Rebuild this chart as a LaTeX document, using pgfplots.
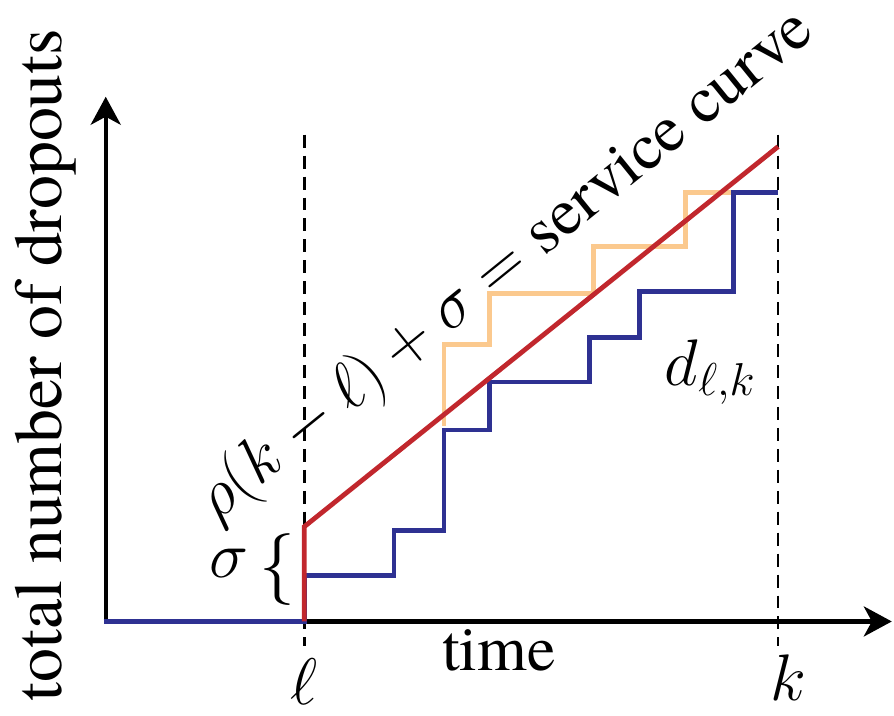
\RequirePackage{fix-cm}
\documentclass[border=0pt]{standalone}
\usepackage{fontspec}
\setmainfont{TeX Gyre Termes}
\usepackage{pgfplots}
\pgfplotsset{compat=1.18}
\usetikzlibrary{arrows.meta}
\definecolor{dblue}{HTML}{2E3192}
\definecolor{dred}{HTML}{C1272D}
\definecolor{lorange}{HTML}{FBC98E}
\begin{document}
\begin{tikzpicture}
\begin{axis}[
  x=0.5pt, y=0.5pt,
  xmin=106, xmax=894, ymin=94, ymax=620,
  axis lines*=left,
  axis line style={line width=2.2pt},
  x axis line style={-{Stealth[length=14pt,width=15pt,inset=4pt]}},
  y axis line style={-{Stealth[length=14pt,width=15pt,inset=4pt]}},
  xtick=\empty, ytick=\empty,
  clip=false,
]
\path (axis cs:0,0) rectangle (axis cs:894,717);
% dashed markers at l and k
\addplot[black, line width=1.3pt, dash pattern=on 6.5pt off 4pt] coordinates {(305,582) (305,69)};
\addplot[black, line width=1.3pt, dash pattern=on 6.5pt off 4pt] coordinates {(780,582) (780,69)};
% upper staircase
\addplot[lorange, line width=2.4pt] coordinates {
 (445,290) (445,372) (491,372) (491,423) (595,423) (595,470) (687,470) (687,524) (735,524)};
% dropouts
\addplot[dblue, line width=2.4pt] coordinates {
 (104,94) (305,94) (305,140) (395,140) (395,185) (445,185) (445,286) (491,286)
 (491,334) (591,334) (591,379) (641,379) (641,425) (735,425) (735,524) (780,524)};
% service curve
\addplot[dred, line width=2.4pt] coordinates {(305,94) (305,189) (780,570)};
% labels
\begin{scope}[every node/.style={overlay, inner sep=0pt}]
\node[rotate=90, font=\fontsize{34}{40}\selectfont] at (axis cs:46,351) {total number of dropouts};
\node[font=\fontsize{32}{40}\selectfont] at (axis cs:500,65) {time};
\node[font=\fontsize{33}{40}\selectfont] at (axis cs:305,34) {$\ell$};
\node[font=\fontsize{33}{40}\selectfont] at (axis cs:790,38) {$k$};
\node[font=\fontsize{33}{40}\selectfont] at (axis cs:712,344) {$d_{\ell,k}$};
\node[font=\fontsize{33}{40}\selectfont] at (axis cs:230,152) {$\sigma$};
\node[font=\fontsize{36}{40}\selectfont] at (axis cs:278,146) {$\Big\{$};
\node[rotate=39, font=\fontsize{33}{40}\selectfont] at (axis cs:507,450) {$\rho(k-\ell)+\sigma=\mbox{service curve}$};
\end{scope}
\end{axis}
\end{tikzpicture}
\end{document}
